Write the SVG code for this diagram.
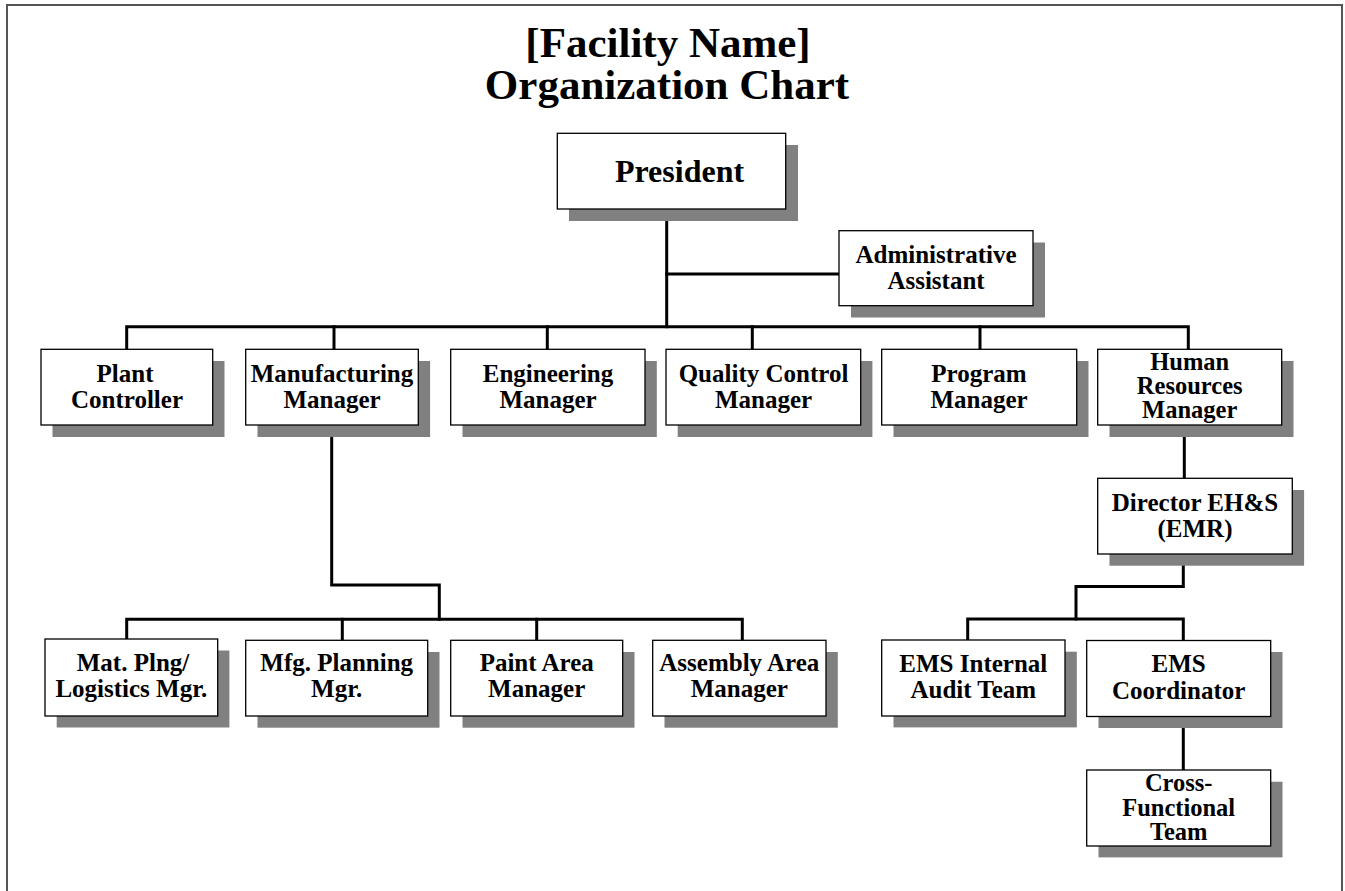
<svg xmlns="http://www.w3.org/2000/svg" width="1345" height="891" viewBox="0 0 1345 891">
<style>
.sh{fill:#808080}
.bx{fill:#fff;stroke:#000;stroke-width:1.3}
.t{font-family:"Liberation Serif","Times New Roman",serif;font-weight:bold;font-size:25px;fill:#000;text-anchor:middle}
.t3{font-size:24.5px}
.ttl{font-family:"Liberation Serif","Times New Roman",serif;font-weight:bold;font-size:43px;fill:#000;text-anchor:middle}
.c{fill:none;stroke:#000;stroke-width:3;stroke-linejoin:miter;stroke-linecap:square}
</style>
<rect width="1345" height="891" fill="#fff"/>
<path d="M7,891 V5 H1342 V891" fill="none" stroke="#555" stroke-width="2"/>
<g id="title">
<text class="ttl" x="668" y="57">[Facility Name]</text>
<text class="ttl" x="667" y="98.5">Organization Chart</text>
</g>
<g id="connectors">
<path class="c" d="M666.7,209 V326.7"/>
<path class="c" d="M666.7,274 H839"/>
<path class="c" d="M126.7,349 V326.7 H1188.3 V349"/>
<path class="c" d="M334,326.7 V349"/>
<path class="c" d="M547.3,326.7 V349"/>
<path class="c" d="M752.3,326.7 V349"/>
<path class="c" d="M980,326.7 V349"/>
<path class="c" d="M331.7,425 V585 H439.3 V619.3"/>
<path class="c" d="M126.7,640 V619.3 H742.3 V640"/>
<path class="c" d="M342.3,619.3 V640"/>
<path class="c" d="M536.7,619.3 V640"/>
<path class="c" d="M1184.3,425 V478"/>
<path class="c" d="M1183.3,554 V586.5 H1076 V619"/>
<path class="c" d="M967.7,640 V619 H1183.3 V640"/>
<path class="c" d="M1183.3,716 V770"/>
</g>
<g id="president">
<rect class="sh" x="569" y="145" width="229" height="76"/>
<rect class="bx" x="557.3" y="133.3" width="228.4" height="75.7"/>
<text class="t" style="font-size:32px" x="679.5" y="181.5">President</text>
</g>
<g id="admin-assistant">
<rect class="sh" x="851" y="242.5" width="194" height="75"/>
<rect class="bx" x="839" y="230.7" width="194" height="75"/>
<text class="t" x="936" y="263">Administrative</text>
<text class="t" x="936" y="289">Assistant</text>
</g>
<g id="plant-controller">
<rect class="sh" x="52.5" y="361" width="172" height="76"/>
<rect class="bx" x="41" y="349.3" width="171.7" height="75.7"/>
<text class="t" x="125" y="381.5">Plant</text>
<text class="t" x="127" y="408">Controller</text>
</g>
<g id="manufacturing-manager">
<rect class="sh" x="257.5" y="361" width="172.6" height="76"/>
<rect class="bx" x="245.7" y="349.3" width="172.6" height="75.7"/>
<text class="t" x="332" y="381.5">Manufacturing</text>
<text class="t" x="332" y="408">Manager</text>
</g>
<g id="engineering-manager">
<rect class="sh" x="462.5" y="361" width="194.3" height="76"/>
<rect class="bx" x="450.7" y="349.3" width="194.3" height="75.7"/>
<text class="t" x="548" y="381.5">Engineering</text>
<text class="t" x="548" y="408">Manager</text>
</g>
<g id="quality-control-manager">
<rect class="sh" x="677.7" y="361" width="194.7" height="76"/>
<rect class="bx" x="666" y="349.3" width="194.7" height="75.7"/>
<text class="t" x="763.5" y="381.5">Quality Control</text>
<text class="t" x="763.5" y="408">Manager</text>
</g>
<g id="program-manager">
<rect class="sh" x="893.5" y="361" width="195" height="76"/>
<rect class="bx" x="881.7" y="349.3" width="195" height="75.7"/>
<text class="t" x="979" y="381.5">Program</text>
<text class="t" x="979" y="408">Manager</text>
</g>
<g id="hr-manager">
<rect class="sh" x="1109.5" y="361" width="184" height="76"/>
<rect class="bx" x="1097.7" y="349.3" width="184" height="75.7"/>
<text class="t t3" x="1189.7" y="370">Human</text>
<text class="t t3" x="1189.7" y="394">Resources</text>
<text class="t t3" x="1189.7" y="418">Manager</text>
</g>
<g id="director-ehs">
<rect class="sh" x="1109.5" y="490" width="194.6" height="75.7"/>
<rect class="bx" x="1097.7" y="478.3" width="194.6" height="75.7"/>
<text class="t" x="1195" y="511">Director EH&amp;S</text>
<text class="t" x="1195" y="537">(EMR)</text>
</g>
<g id="mat-plng-logistics">
<rect class="sh" x="56.7" y="650.5" width="172.7" height="77"/>
<rect class="bx" x="45" y="639" width="172.7" height="77"/>
<text class="t" x="133" y="670.5">Mat. Plng/</text>
<text class="t" x="131.3" y="697">Logistics Mgr.</text>
</g>
<g id="mfg-planning">
<rect class="sh" x="257.5" y="652" width="182" height="75.7"/>
<rect class="bx" x="245.7" y="640.3" width="182" height="75.7"/>
<text class="t" x="336.7" y="671">Mfg. Planning</text>
<text class="t" x="336.7" y="697">Mgr.</text>
</g>
<g id="paint-area-manager">
<rect class="sh" x="462.5" y="652" width="172" height="75.7"/>
<rect class="bx" x="450.7" y="640.3" width="172" height="75.7"/>
<text class="t" x="536.7" y="671">Paint Area</text>
<text class="t" x="536.7" y="697">Manager</text>
</g>
<g id="assembly-area-manager">
<rect class="sh" x="664.5" y="652" width="173.3" height="75.7"/>
<rect class="bx" x="652.7" y="640.3" width="173.3" height="75.7"/>
<text class="t" x="739.3" y="671">Assembly Area</text>
<text class="t" x="739.3" y="697">Manager</text>
</g>
<g id="ems-internal-audit">
<rect class="sh" x="893.5" y="651.7" width="183.3" height="75.7"/>
<rect class="bx" x="881.7" y="640" width="183.3" height="76"/>
<text class="t" x="973.3" y="671.5">EMS Internal</text>
<text class="t" x="973.3" y="697.5">Audit Team</text>
</g>
<g id="ems-coordinator">
<rect class="sh" x="1098.5" y="652" width="184" height="76"/>
<rect class="bx" x="1086.7" y="640.5" width="184" height="76"/>
<text class="t" x="1178.7" y="672">EMS</text>
<text class="t" x="1178.7" y="699">Coordinator</text>
</g>
<g id="cross-functional-team">
<rect class="sh" x="1098.5" y="781.7" width="184" height="75.7"/>
<rect class="bx" x="1086.7" y="770" width="184" height="76"/>
<text class="t t3" x="1178.7" y="791">Cross-</text>
<text class="t t3" x="1178.7" y="815.5">Functional</text>
<text class="t t3" x="1178.7" y="840">Team</text>
</g>
</svg>
